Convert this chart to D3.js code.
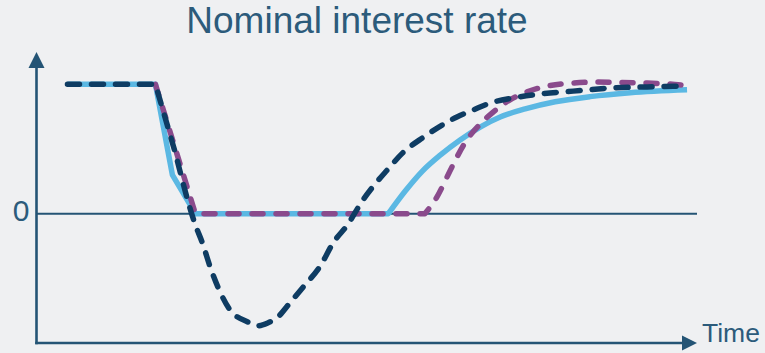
<!DOCTYPE html>
<html>
<head>
<meta charset="utf-8">
<script src="https://cdn.jsdelivr.net/npm/d3@7"></script>
<style>
  html, body { margin: 0; padding: 0; background: #eff0f2; }
  svg { display: block; }
  text { font-family: "Liberation Sans", Arial, sans-serif; }
</style>
</head>
<body>
<svg id="chart" width="765" height="353"></svg>
<script>
// Policy-rate paths over time (index units on x, rate level on y).
// Each series: a straight-line section (up to the bend index), then a smooth section.
const blueT = [0, 7.95, 9.48, 11.56, 29.0, 30.53, 32.06, 33.69, 35.49, 37.3, 39.11, 41.37, 44.08, 47.24, 50.85, 56.0];
const blueV = [4.0, 4.0, 1.2, 0, 0, 0.7, 1.31, 1.81, 2.28, 2.68, 2.99, 3.24, 3.46, 3.62, 3.74, 3.83];
const blueBend = 4;

const navyT = [0, 7.95, 9.75, 11.56, 12.2, 12.9, 13.6, 14.7, 16.3, 17.2, 18.1, 19.0, 20.1, 21.3, 22.9, 24.0, 25.3, 26.7, 27.6, 28.9, 30.3, 32.2, 34.0, 35.2, 36.7, 38.2, 40.3, 42.7, 45.7, 49.3, 52.4, 56.0];
const navyV = [4.0, 4.0, 1.88, -0.35, -0.91, -1.65, -2.27, -2.98, -3.35, -3.47, -3.38, -3.2, -2.76, -2.27, -1.59, -0.91, -0.35, 0.42, 0.83, 1.35, 1.88, 2.37, 2.77, 2.99, 3.21, 3.42, 3.58, 3.7, 3.79, 3.89, 3.92, 3.95];
const navyBend = 2;

const purpleT = [7.95, 11.56, 32.3, 33.4, 34.3, 35.2, 36.1, 37.3, 38.5, 40.0, 41.5, 43.4, 45.7, 47.9, 49.9, 52.4, 54.4, 55.8];
const purpleV = [4.0, 0, 0, 0.52, 1.13, 1.75, 2.28, 2.77, 3.15, 3.52, 3.76, 3.95, 4.04, 4.07, 4.06, 4.04, 4.01, 3.97];
const purpleBend = 2;

const titleText = "Nominal interest rate";
const xAxisLabel = "Time";
const yTickValues = [0];
const yTickLabels = ["0"];

const svg = d3.select("#chart");
const axisColor = "#245475";
const textColor = "#2c5b7b";

const x = d3.scaleLinear().domain([-2.8, 56.9]).range([36.5, 697]);
const y = d3.scaleLinear().domain([-4, 5]).range([343, 52]);

// Title
svg.append("text")
  .attr("x", 357).attr("y", 33)
  .attr("text-anchor", "middle")
  .attr("font-size", 37)
  .attr("fill", textColor)
  .text(titleText);

// Zero reference line
svg.append("line")
  .attr("x1", x(-2.8)).attr("x2", x(56.9))
  .attr("y1", y(0)).attr("y2", y(0))
  .attr("stroke", axisColor).attr("stroke-width", 2);

// y-axis tick labels
svg.selectAll("text.ytick").data(yTickValues).join("text")
  .attr("class", "ytick")
  .attr("x", 21).attr("y", d => y(d) + 7)
  .attr("text-anchor", "middle")
  .attr("font-size", 30)
  .attr("fill", textColor)
  .text((d, i) => yTickLabels[i]);

// Axes with arrowheads
const x0 = x(-2.8), xEnd = x(56.9), y0 = y(-4), yEnd = y(5);
svg.append("line")
  .attr("x1", x0).attr("x2", x0).attr("y1", y0 + 1.2).attr("y2", yEnd + 12)
  .attr("stroke", axisColor).attr("stroke-width", 2.6);
svg.append("line")
  .attr("x1", x0 - 1.3).attr("x2", xEnd - 12).attr("y1", y0).attr("y2", y0)
  .attr("stroke", axisColor).attr("stroke-width", 2.6);
svg.append("path")
  .attr("d", `M${x0},${yEnd} L${x0 - 8},${yEnd + 16} L${x0 + 8},${yEnd + 16} Z`)
  .attr("fill", axisColor);
svg.append("path")
  .attr("d", `M${xEnd},${y0} L${xEnd - 15},${y0 - 7.5} L${xEnd - 15},${y0 + 7.5} Z`)
  .attr("fill", axisColor);

svg.append("text")
  .attr("x", 702).attr("y", 342)
  .attr("font-size", 26.5)
  .attr("fill", textColor)
  .text(xAxisLabel);

// Series lines: straight section joined to a monotone-smoothed section in one path
const zip = (a, b) => a.map((t, i) => [t, b[i]]);
const straight = d3.line().x(d => x(d[0])).y(d => y(d[1])).curve(d3.curveLinear);
const smooth = d3.line().x(d => x(d[0])).y(d => y(d[1])).curve(d3.curveMonotoneX);
function seriesPath(ts, vs, bend) {
  const pts = zip(ts, vs);
  const a = straight(pts.slice(0, bend + 1));
  const b = smooth(pts.slice(bend)).replace(/^M[^A-Za-z]*/, "");
  return a + b;
}

svg.append("path")
  .attr("d", seriesPath(blueT, blueV, blueBend))
  .attr("fill", "none").attr("stroke", "#5bb8e3")
  .attr("stroke-width", 5.5).attr("stroke-linejoin", "round");

svg.append("path")
  .attr("d", seriesPath(purpleT, purpleV, purpleBend))
  .attr("fill", "none").attr("stroke", "#8a4a8c")
  .attr("stroke-width", 5.5).attr("stroke-linejoin", "round")
  .attr("stroke-linecap", "round").attr("stroke-dasharray", "11 13");

svg.append("path")
  .attr("d", seriesPath(navyT, navyV, navyBend))
  .attr("fill", "none").attr("stroke", "#0e3c63")
  .attr("stroke-width", 5.5).attr("stroke-linejoin", "round")
  .attr("stroke-linecap", "round").attr("stroke-dasharray", "12 12");
</script>
</body>
</html>
